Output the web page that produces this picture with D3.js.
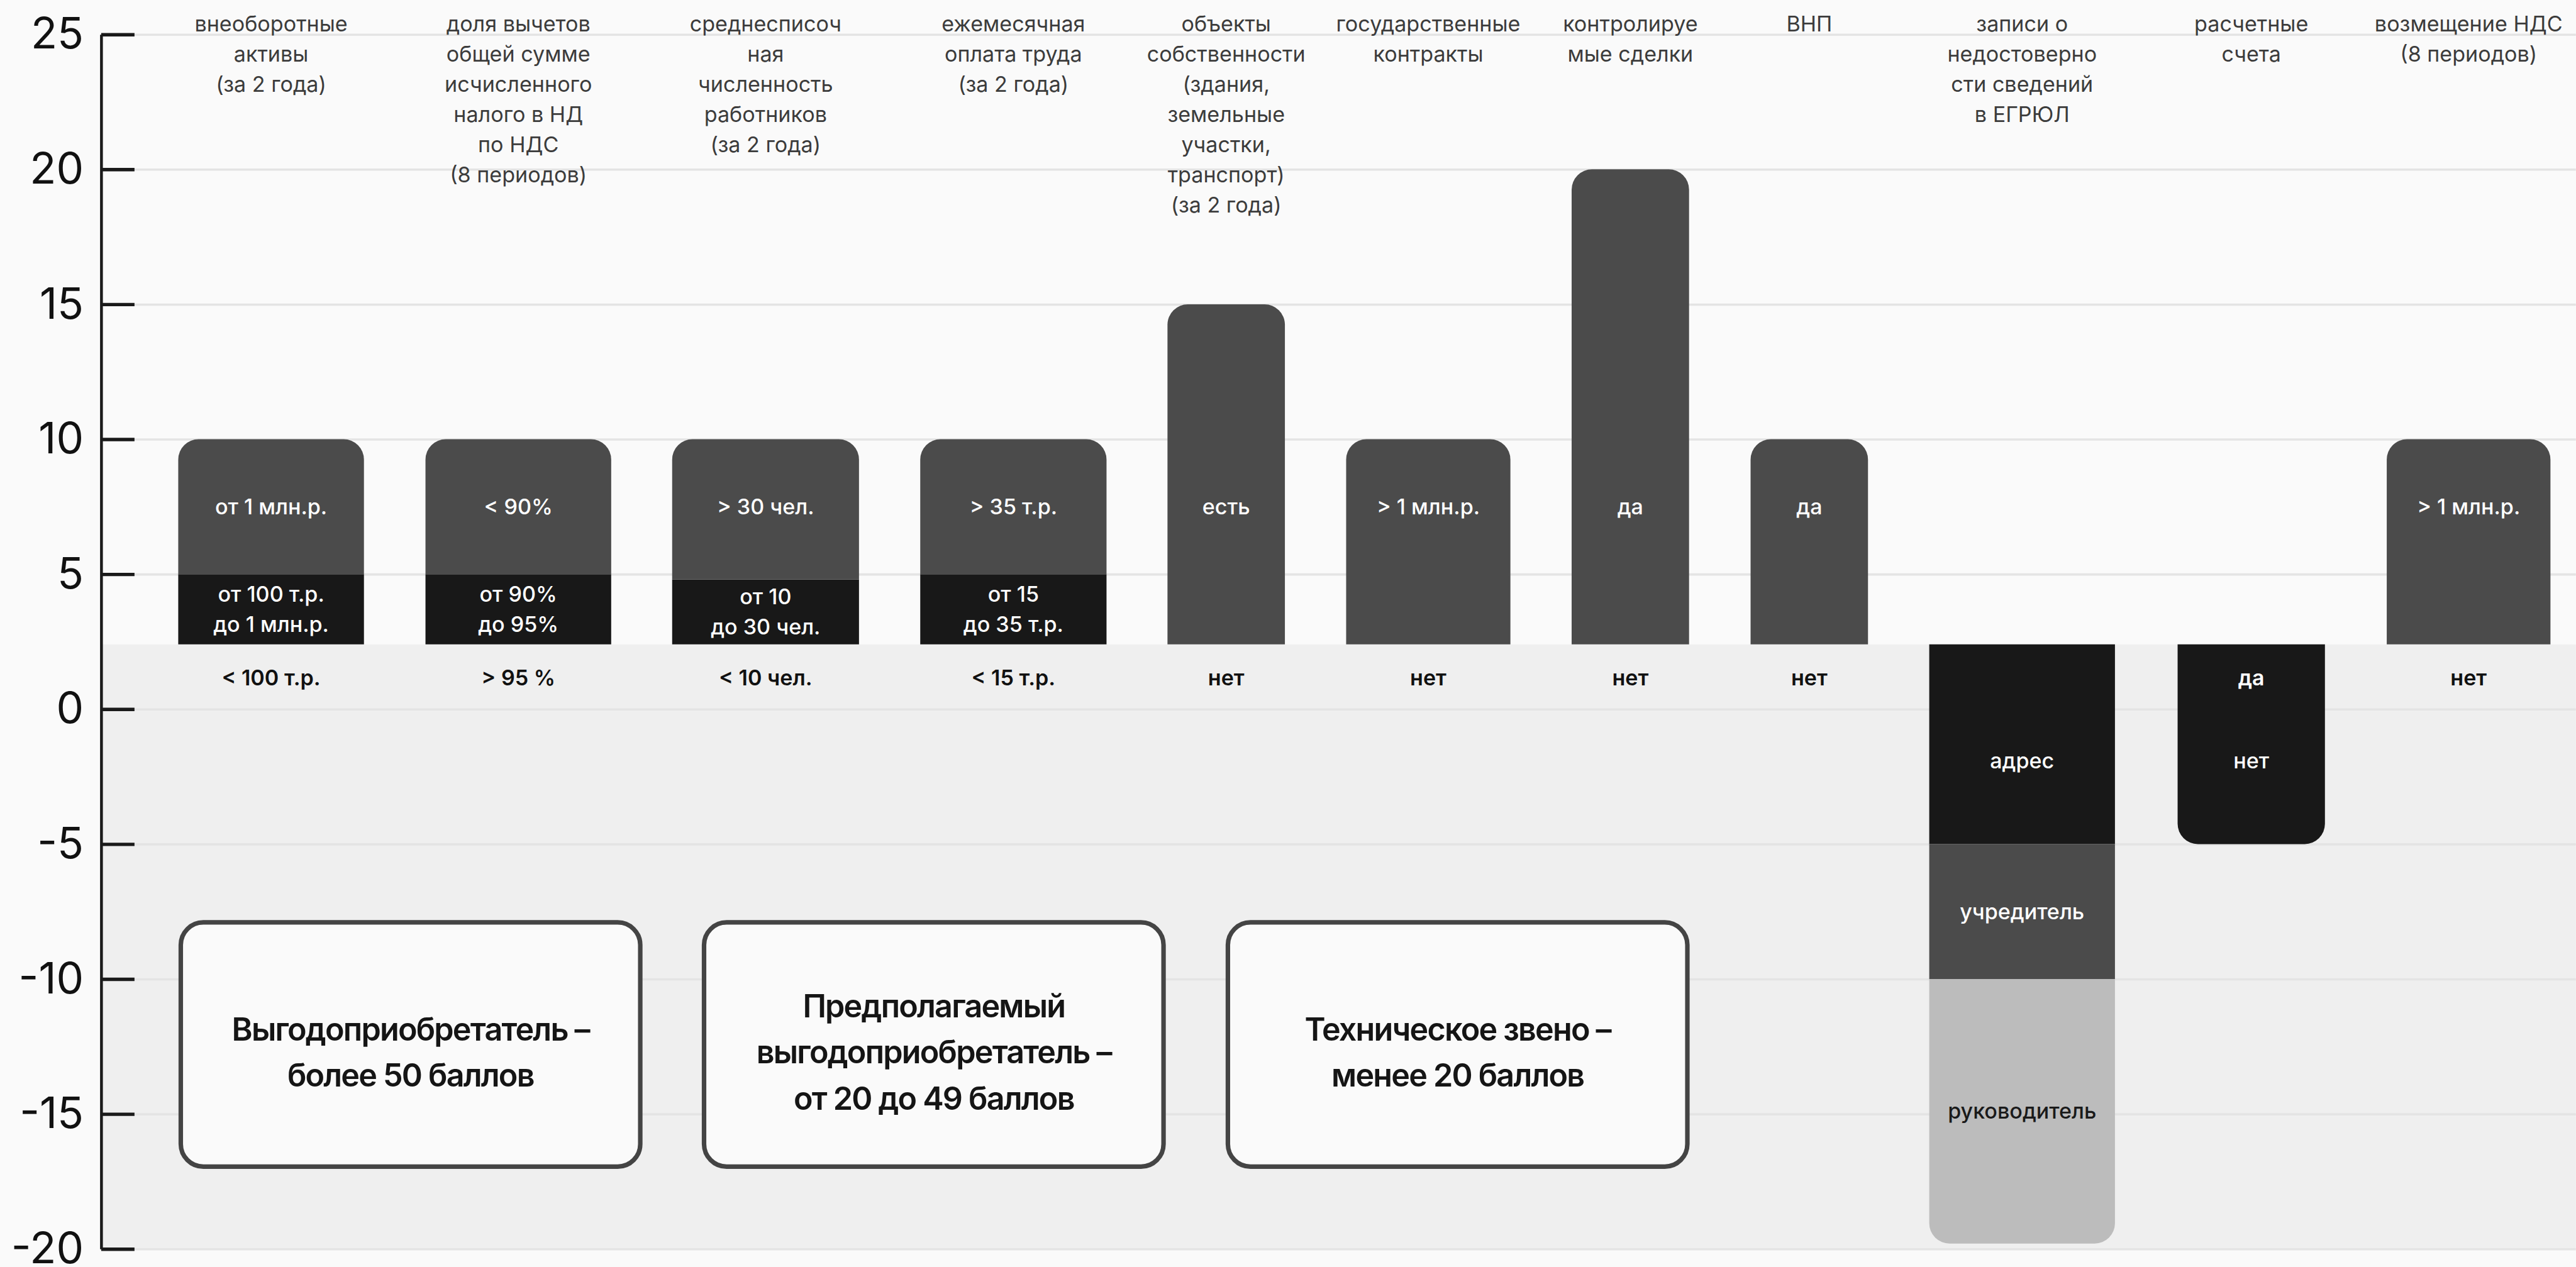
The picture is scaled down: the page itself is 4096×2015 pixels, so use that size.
<!DOCTYPE html>
<html>
<head>
<meta charset="utf-8">
<script src="https://cdn.jsdelivr.net/npm/d3@7"></script>
<style>
  html, body { margin: 0; padding: 0; background: #fafafa; }
  svg { display: block; }
  text { font-family: Inter, "Noto Sans", sans-serif; }
</style>
</head>
<body>
<script>
// Reference size, drawn through a viewBox so everything scales to the window
var W = 4563, H = 2245;

// Category labels (line breaks as in the picture)
var categoryLines = [
  ["внеоборотные", "активы", "(за 2 года)"],
  ["доля вычетов", "общей сумме", "исчисленного", "налого в НД", "по НДС", "(8 периодов)"],
  ["среднесписоч", "ная", "численность", "работников", "(за 2 года)"],
  ["ежемесячная", "оплата труда", "(за 2 года)"],
  ["объекты", "собственности", "(здания,", "земельные", "участки,", "транспорт)", "(за 2 года)"],
  ["государственные", "контракты"],
  ["контролируе", "мые сделки"],
  ["ВНП"],
  ["записи о", "недостоверно", "сти сведений", "в ЕГРЮЛ"],
  ["расчетные", "счета"],
  ["возмещение НДС", "(8 периодов)"]
];

// Bars start at the top of the "нет" band
var BASE = 2.4;

// Positive stack: lower tier and upper tier (end values)
var lowerTop = [5, 5, 4.8, 5, null, null, null, null, null, null, null];
var lowerLabels = [["от 100 т.р.", "до 1 млн.р."], ["от 90%", "до 95%"], ["от 10", "до 30 чел."], ["от 15", "до 35 т.р."],
  null, null, null, null, null, null, null];
var upperTop = [10, 10, 10, 10, 15, 10, 20, 10, null, null, 10];
var upperLabels = ["от 1 млн.р.", "< 90%", "> 30 чел.", "> 35 т.р.", "есть", "> 1 млн.р.", "да", "да", null, null, "> 1 млн.р."];

// Negative stack: penalties (end values)
var penalty1 = [null, null, null, null, null, null, null, null, -5, -5, null];
var penalty1Labels = [null, null, null, null, null, null, null, null, "адрес", "нет", null];
var penalty2 = [null, null, null, null, null, null, null, null, -10, null, null];
var penalty2Labels = [null, null, null, null, null, null, null, null, "учредитель", null, null];
var penalty3 = [null, null, null, null, null, null, null, null, -19.8, null, null];
var penalty3Labels = [null, null, null, null, null, null, null, null, "руководитель", null, null];

// Labels in the band row
var rowLabels = ["< 100 т.р.", "> 95 %", "< 10 чел.", "< 15 т.р.", "нет", "нет", "нет", "нет", null, "да", "нет"];
var ROW = 1.15;

// Y axis ticks
var yTicks = [25, 20, 15, 10, 5, 0, -5, -10, -15, -20];

// Group boxes
var boxTexts = [
  ["Выгодоприобретатель –", "более 50 баллов"],
  ["Предполагаемый", "выгодоприобретатель –", "от 20 до 49 баллов"],
  ["Техническое звено –", "менее 20 баллов"]
];

// Layout
var axisX = 179;
var idx = d3.range(categoryLines.length);
var xCenter = d3.scaleOrdinal().domain(idx)
  .range([480, 918, 1356, 1795, 2172, 2530, 2888, 3205, 3582, 3988, 4373]);
var xWidth = d3.scaleOrdinal().domain(idx)
  .range([329, 329, 331, 330, 208, 291, 208, 208, 329, 261, 290]);
var yScale = d3.scaleLinear().domain([-20, 25]).range([2213, 61]);
var boxX = [320, 1247, 2175], boxW = 814;
var R = 36;

var svg = d3.select("body").append("svg")
  .attr("width", 4096)
  .attr("height", 2015)
  .attr("viewBox", "0 0 " + W + " " + H);

svg.append("rect").attr("width", W).attr("height", H).attr("fill", "#fafafa");

// grey band under the bars' base
svg.append("rect")
  .attr("x", axisX).attr("y", yScale(BASE))
  .attr("width", W - axisX).attr("height", yScale(-20) - yScale(BASE))
  .attr("fill", "#efefef");

// gridlines
svg.append("g")
  .attr("transform", "translate(" + axisX + ",0)")
  .call(d3.axisLeft(yScale).tickValues(yTicks).tickSize(-(W - axisX)).tickFormat(""))
  .call(function(g) { g.select(".domain").remove(); })
  .selectAll("line")
  .attr("stroke", "#e4e4e4")
  .attr("stroke-width", 4);

function barPath(x0, x1, yTop, yBot, rTop, rBot) {
  var p = d3.path();
  p.moveTo(x0, yTop + rTop);
  p.arcTo(x0, yTop, x1, yTop, rTop);
  p.arcTo(x1, yTop, x1, yBot, rTop);
  p.arcTo(x1, yBot, x0, yBot, rBot);
  p.arcTo(x0, yBot, x0, yTop, rBot);
  p.closePath();
  return p.toString();
}

var colors = { lower: "#181818", upper: "#4b4b4b", p1: "#181818", p2: "#4b4b4b", p3: "#bcbcbc" };
var posSeries = [
  { key: "lower", values: lowerTop, labels: lowerLabels },
  { key: "upper", values: upperTop, labels: upperLabels }
];
var negSeries = [
  { key: "p1", values: penalty1, labels: penalty1Labels },
  { key: "p2", values: penalty2, labels: penalty2Labels },
  { key: "p3", values: penalty3, labels: penalty3Labels }
];

// build segments from the stacks
var segments = [];
idx.forEach(function(i) {
  [posSeries, negSeries].forEach(function(stack) {
    var prev = BASE;
    var present = stack.filter(function(s) { return s.values[i] != null; });
    present.forEach(function(s, k) {
      segments.push({
        i: i, key: s.key, from: prev, to: s.values[i], label: s.labels[i],
        outer: k === present.length - 1
      });
      prev = s.values[i];
    });
  });
});

// where a segment's label sits (upper labels share the 5..10 zone, negative ones skip the row)
function labelValue(d) {
  if (d.key === "upper") return (Math.max(d.from, 5) + Math.min(d.to, 10)) / 2;
  if (d.to < 0 && d.from === BASE) return (ROW + d.to) / 2;
  return (d.from + d.to) / 2;
}

var barG = svg.append("g");
barG.selectAll("path")
  .data(segments)
  .enter()
  .append("path")
  .attr("d", function(d) {
    var x0 = xCenter(d.i) - xWidth(d.i) / 2, x1 = xCenter(d.i) + xWidth(d.i) / 2;
    var up = d.to > d.from;
    var yTop = yScale(Math.max(d.from, d.to)), yBot = yScale(Math.min(d.from, d.to));
    return barPath(x0, x1, yTop, yBot, d.outer && up ? R : 0, d.outer && !up ? R : 0);
  })
  .attr("fill", function(d) { return colors[d.key]; });

// segment labels
var segLab = barG.selectAll("text.seg")
  .data(segments.filter(function(d) { return d.label; }))
  .enter()
  .append("text")
  .attr("class", "seg")
  .attr("text-anchor", "middle")
  .attr("font-size", 38)
  .attr("font-weight", 500)
  .attr("fill", function(d) { return d.key === "p3" ? "#1a1a1a" : "#ffffff"; })
  .attr("transform", function(d) {
    return "translate(" + xCenter(d.i) + "," + yScale(labelValue(d)) + ")";
  });
segLab.selectAll("tspan")
  .data(function(d) { return Array.isArray(d.label) ? d.label : [d.label]; })
  .enter()
  .append("tspan")
  .attr("x", 0)
  .attr("y", function(t, k, nodes) { return (k - (nodes.length - 1) / 2) * 54; })
  .attr("dy", "0.35em")
  .text(function(t) { return t; });

// band row labels
svg.append("g").selectAll("text")
  .data(idx.filter(function(i) { return rowLabels[i]; }))
  .enter()
  .append("text")
  .attr("x", function(i) { return xCenter(i); })
  .attr("y", yScale(ROW))
  .attr("dy", "0.35em")
  .attr("text-anchor", "middle")
  .attr("font-size", 38)
  .attr("font-weight", 600)
  .attr("fill", function(i) { return penalty1[i] != null ? "#ffffff" : "#111111"; })
  .text(function(i) { return rowLabels[i]; });

// category labels at the top
var catText = svg.append("g").selectAll("text")
  .data(idx)
  .enter()
  .append("text")
  .attr("text-anchor", "middle")
  .attr("font-size", 38)
  .attr("fill", "#3c3c3c")
  .attr("transform", function(i) { return "translate(" + xCenter(i) + ",42)"; });
catText.selectAll("tspan")
  .data(function(i) { return categoryLines[i]; })
  .enter()
  .append("tspan")
  .attr("x", 0)
  .attr("y", function(t, k) { return k * 53.6; })
  .attr("dy", "0.35em")
  .text(function(t) { return t; });

// Y axis
var yAxis = d3.axisLeft(yScale)
  .tickValues(yTicks)
  .tickFormat(function(d) { return String(d); })
  .tickSizeInner(-59)
  .tickSizeOuter(0)
  .tickPadding(31);
var axG = svg.append("g")
  .attr("transform", "translate(" + axisX + ",0)")
  .call(yAxis);
axG.select(".domain").attr("stroke", "#1a1a1a").attr("stroke-width", 5);
axG.selectAll(".tick line").attr("stroke", "#1a1a1a").attr("stroke-width", 6);
axG.selectAll(".tick text")
  .attr("font-size", 77)
  .attr("font-family", "'Liberation Sans', Arial, sans-serif")
  .attr("fill", "#111");

// group boxes
var boxG = svg.append("g").selectAll("g")
  .data(boxTexts)
  .enter()
  .append("g");
var boxTop = yScale(-7.9), boxBot = yScale(-16.95);
boxG.append("rect")
  .attr("x", function(d, k) { return boxX[k]; })
  .attr("y", boxTop)
  .attr("width", boxW)
  .attr("height", boxBot - boxTop)
  .attr("rx", 40)
  .attr("fill", "#fafafa")
  .attr("stroke", "#444")
  .attr("stroke-width", 8);
var bt = boxG.append("text")
  .attr("text-anchor", "middle")
  .attr("font-size", 56)
  .attr("font-weight", 600)
  .attr("letter-spacing", -2)
  .attr("fill", "#151515")
  .attr("transform", function(d, k) {
    return "translate(" + (boxX[k] + boxW / 2) + "," + ((boxTop + boxBot) / 2 + 14) + ")";
  });
bt.selectAll("tspan")
  .data(function(d) { return d; })
  .enter()
  .append("tspan")
  .attr("x", 0)
  .attr("y", function(t, k, nodes) { return (k - (nodes.length - 1) / 2) * 82; })
  .attr("dy", "0.35em")
  .text(function(t) { return t; });
</script>
</body>
</html>
